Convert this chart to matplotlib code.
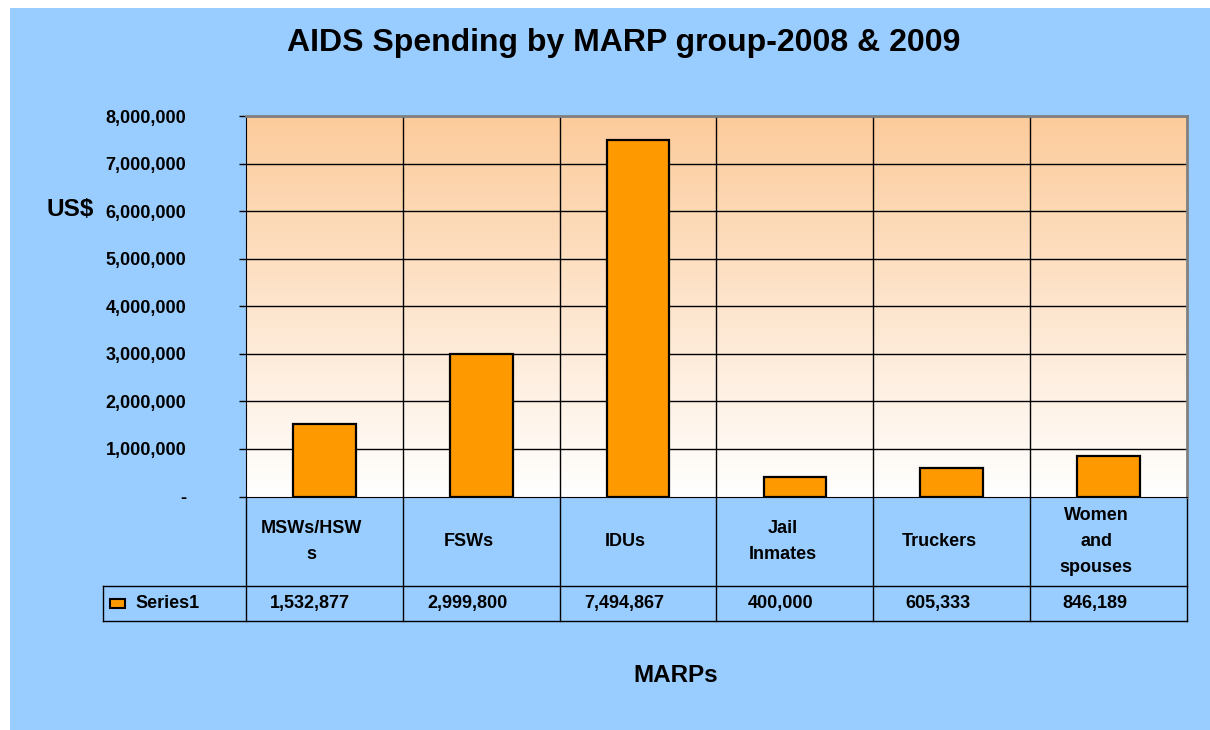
import numpy as np
import matplotlib.pyplot as plt
from matplotlib.colors import LinearSegmentedColormap
from matplotlib.patches import Rectangle
from matplotlib.lines import Line2D

plt.rcParams['font.family'] = ['Liberation Sans', 'DejaVu Sans']
plt.rcParams['font.weight'] = 'bold'

### data ###
categories = ["MSWs/HSW\ns", "FSWs", "IDUs", "Jail\nInmates", "Truckers", "Women\nand\nspouses"]
spending = np.array([1532877, 2999800, 7494867, 400000, 605333, 846189])
series_name = "Series1"
yticks = np.arange(0, 8000001, 1000000)

BLUE = "#99CCFF"
ORANGE = "#FF9900"

W, H = 1210, 730
fig = plt.figure(figsize=(W / 100, H / 100), dpi=100, facecolor="white")
# blue chart area (white strip at top and left)
fig.add_artist(Rectangle((10 / W, 0), 1 - 10 / W, (H - 8) / H,
                         transform=fig.transFigure, facecolor=BLUE,
                         edgecolor="none", zorder=0))

ax = fig.add_axes([246 / W, (H - 496.5) / H, (1187 - 246) / W, 380.5 / H])
ax.set_facecolor("white")

x = np.arange(len(categories))
ax.set_xlim(-0.5, len(categories) - 0.5)
ax.set_ylim(0, 8000000)

# gradient backdrop: peach at top fading to white at bottom
grad = LinearSegmentedColormap.from_list("peach", ["#FFFFFF", "#FCCB9B"])
ax.imshow(np.linspace(0, 1, 256).reshape(-1, 1), cmap=grad, origin="lower",
          extent=(-0.5, len(categories) - 0.5, 0, 8000000), aspect="auto", zorder=0)

# grid
for v in yticks[1:]:
    ax.axhline(v, color="black", lw=1, zorder=1)
for b in x[1:] - 0.5:
    ax.axvline(b, color="black", lw=1, zorder=1)

ax.bar(x, spending, width=0.4, color=ORANGE, edgecolor="black", linewidth=1.6, zorder=3)

ax.set_yticks(yticks)
ax.set_yticklabels(["-" if v == 0 else f"{v:,.0f}" for v in yticks],
                   fontsize=13, fontweight="bold")
ax.tick_params(axis="y", direction="out", length=5, width=1, pad=38)
ax.set_xticks([])

ax.spines["left"].set_color("black")
ax.spines["bottom"].set_color("black")
ax.spines["top"].set_color("#808080")
ax.spines["right"].set_color("#808080")
ax.spines["top"].set_linewidth(2)
ax.spines["right"].set_linewidth(2)

# data table below the plot
tr = ax.get_xaxis_transform()
row1 = -(586 - 496.5) / 380.5
row2 = -(621 - 496.5) / 380.5
px_unit = 941 / len(categories)
legend_left = -0.5 - (246 - 103) / px_unit

for b in np.append(x - 0.5, x[-1] + 0.5):
    ax.add_line(Line2D([b, b], [0, row2], transform=tr, color="black", lw=1, clip_on=False))
for yy in (row1, row2):
    ax.add_line(Line2D([legend_left, x[-1] + 0.5], [yy, yy], transform=tr,
                       color="black", lw=1, clip_on=False))
ax.add_line(Line2D([legend_left, legend_left], [row1, row2], transform=tr,
                   color="black", lw=1, clip_on=False))

cat_mid = (0 + row1) / 2
val_mid = (row1 + row2) / 2
for xi, lab, val in zip(x, categories, spending):
    ax.text(xi - 0.08, cat_mid, lab, transform=tr, ha="center", va="center",
            fontsize=13, fontweight="bold", linespacing=1.7, multialignment="center")
    ax.text(xi - 0.09, val_mid, f"{val:,}", transform=tr, ha="center", va="center",
            fontsize=13, fontweight="bold")

# legend key inside table
ax.add_patch(Rectangle((legend_left + 7 / px_unit, val_mid - 0.013),
                       15 / px_unit, 0.026, transform=tr, facecolor=ORANGE,
                       edgecolor="black", lw=1.5, clip_on=False))
ax.text(legend_left + 32 / px_unit, val_mid, series_name, transform=tr,
        ha="left", va="center", fontsize=13, fontweight="bold")

fig.text(623.5 / W, 1 - 43 / H, "AIDS Spending by MARP group-2008 & 2009",
         ha="center", va="center", fontsize=23, fontweight="bold")
fig.text(70 / W, 1 - 209 / H, "US$", ha="center", va="center", fontsize=17.5, fontweight="bold")
fig.text(676 / W, 1 - 676 / H, "MARPs", ha="center", va="center", fontsize=17.5, fontweight="bold")

fig.savefig("out.png", dpi=100, facecolor=fig.get_facecolor())
